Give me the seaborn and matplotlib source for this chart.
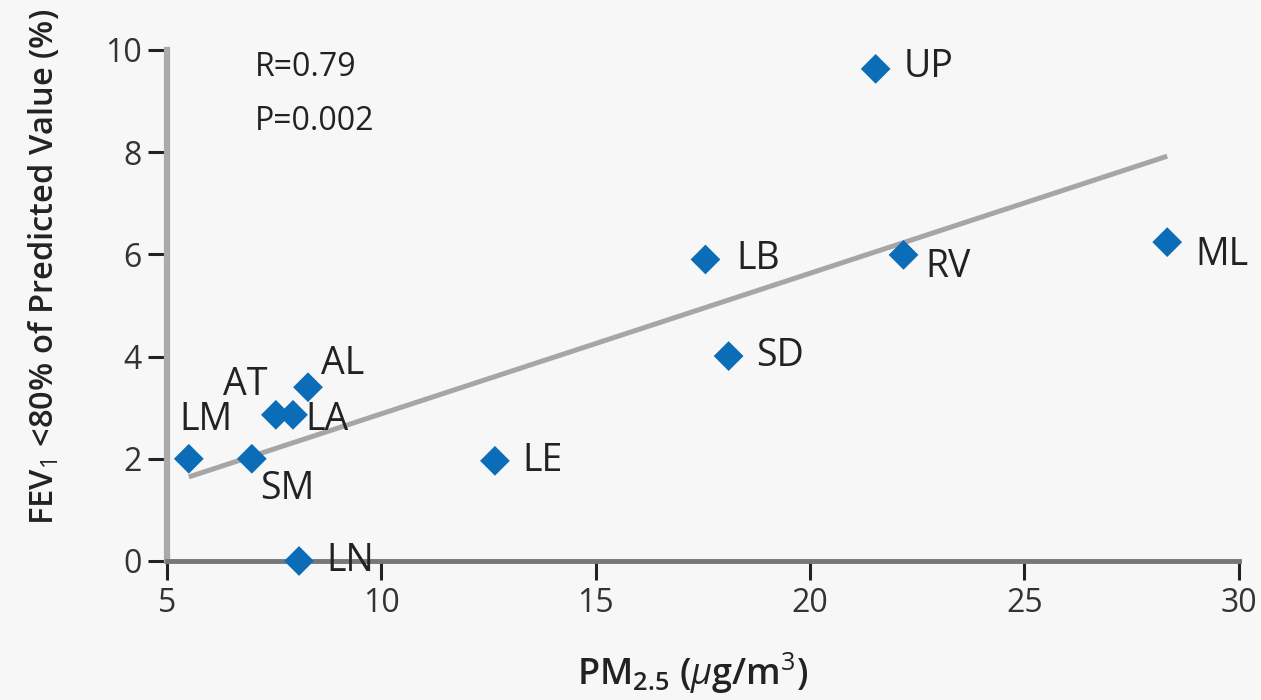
import numpy as np
import pandas as pd
import matplotlib.pyplot as plt
import seaborn as sns

# values
sites = ['LM', 'SM', 'AT', 'LA', 'AL', 'LN', 'LE', 'LB', 'SD', 'UP', 'RV', 'ML']
pm25 = [5.51, 6.98, 7.54, 7.94, 8.29, 8.08, 12.65, 17.56, 18.10, 21.53, 22.18, 28.33]
fev1_low = [2.00, 2.00, 2.86, 2.86, 3.40, 0.00, 1.96, 5.90, 4.01, 9.63, 5.99, 6.24]
x_ticks = [5, 10, 15, 20, 25, 30]
y_ticks = [0, 2, 4, 6, 8, 10]
stats_text = ['R=0.79', 'P=0.002']

# label offsets in points (dx, dy, ha, va)
label_pos = {
    'LM': (12, 14, 'center', 'bottom'),
    'SM': (6, -8, 'left', 'top'),
    'AT': (-6, 8, 'right', 'bottom'),
    'LA': (9, -4, 'left', 'center'),
    'AL': (9, 3, 'left', 'bottom'),
    'LN': (20, 0, 'left', 'center'),
    'LE': (20, 0, 'left', 'center'),
    'LB': (22, 0, 'left', 'center'),
    'SD': (20, 0, 'left', 'center'),
    'UP': (20, 1, 'left', 'center'),
    'RV': (16, -9, 'left', 'center'),
    'ML': (20, -9, 'left', 'center'),
}

df = pd.DataFrame({'site': sites, 'pm25': pm25, 'fev1': fev1_low})

sns.set_style('ticks')
plt.rcParams['font.family'] = ['Open Sans', 'DejaVu Sans']
plt.rcParams['mathtext.fontset'] = 'custom'
plt.rcParams['mathtext.rm'] = 'Open Sans'
plt.rcParams['mathtext.it'] = 'Open Sans:italic'
plt.rcParams['mathtext.bf'] = 'Open Sans:semibold'

bg = '#f7f7f7'
fig = plt.figure(figsize=(12.61, 7.0), dpi=100, facecolor=bg)
ax = fig.add_axes([0.1324, 0.1986, 0.850, 0.730])
ax.set_facecolor(bg)

# regression line
sns.regplot(data=df, x='pm25', y='fev1', scatter=False, ci=None, ax=ax,
            line_kws={'color': '#a6a6a6', 'lw': 3.6, 'solid_capstyle': 'butt'})

# points
sns.scatterplot(data=df, x='pm25', y='fev1', marker='D', s=230, color='#0b6db7',
                edgecolor='none', ax=ax, clip_on=False, zorder=5)

for name, xv, yv in zip(sites, pm25, fev1_low):
    dx, dy, ha, va = label_pos[name]
    ax.annotate(name, (xv, yv), xytext=(dx, dy), textcoords='offset points',
                ha=ha, va=va, fontsize=27, color='#222222')

ax.text(0.082, 0.965, stats_text[0], transform=ax.transAxes, fontsize=23,
        color='#222222', ha='left', va='center')
ax.text(0.082, 0.86, stats_text[1], transform=ax.transAxes, fontsize=23,
        color='#222222', ha='left', va='center')

ax.set_xlim(5, 30)
ax.set_ylim(0, 10)
ax.set_xticks(x_ticks)
ax.set_yticks(y_ticks)
ax.tick_params(axis='both', direction='out', length=14, width=2.2, color='#222222',
               labelsize=23, labelcolor='#333333')
ax.tick_params(axis='x', pad=5)
ax.tick_params(axis='y', pad=4)

sns.despine(ax=ax)
ax.spines['left'].set_color('#aaaaaa')
ax.spines['left'].set_linewidth(4.5)
ax.spines['bottom'].set_color('#777777')
ax.spines['bottom'].set_linewidth(3.5)

ax.set_xlabel('PM$_{\\mathbf{2.5}}$ ($\\mu$g/m$^3$)', fontsize=26, color='#222222',
              fontweight='semibold', labelpad=22, x=0.49)
ax.set_ylabel('FEV$_1$ <80% of Predicted Value (%)', fontsize=23.5, color='#222222',
              fontweight='semibold', labelpad=32, y=0.575)

plt.savefig('out.png', dpi=100, facecolor=bg)
plt.close()
